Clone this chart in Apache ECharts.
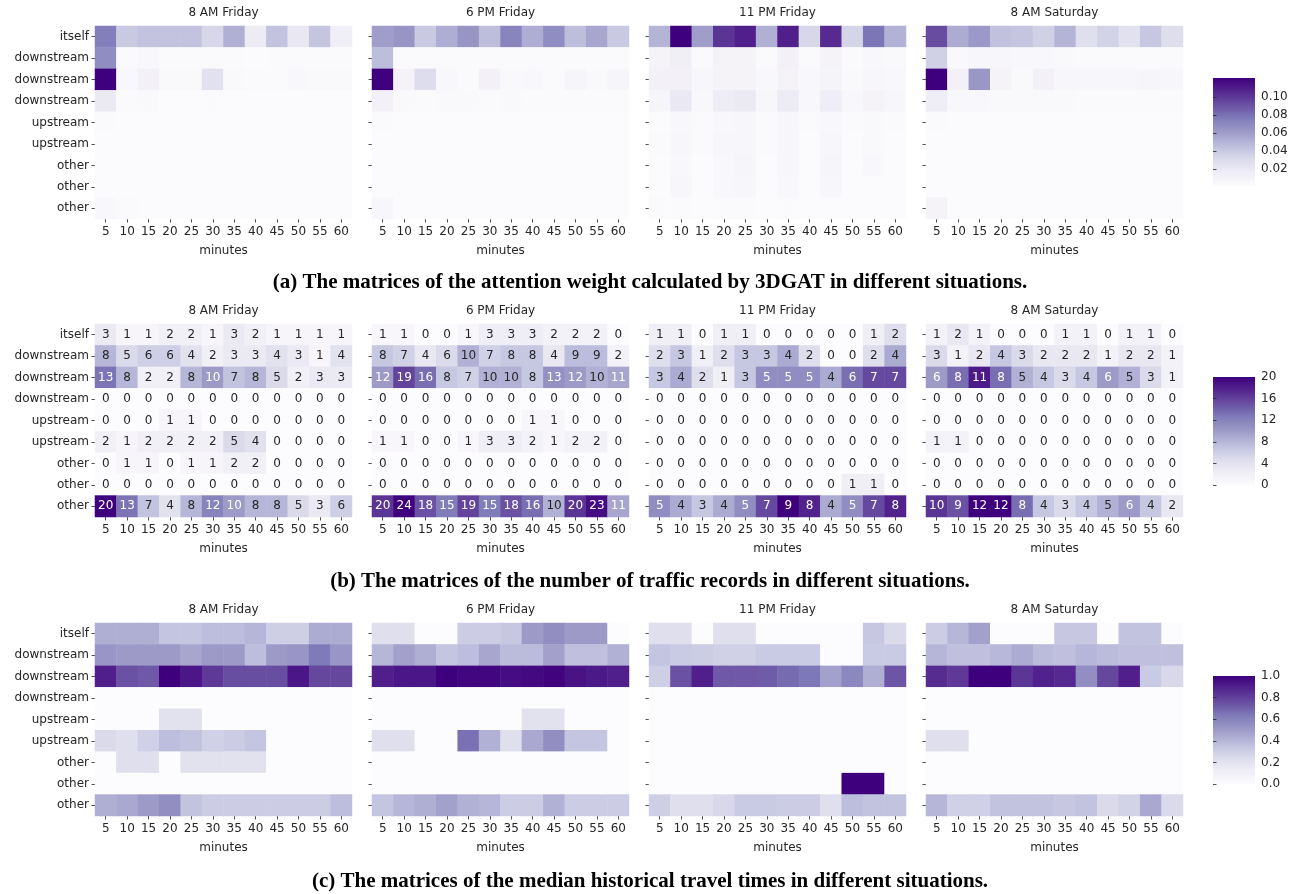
<!DOCTYPE html>
<html>
<head>
<meta charset="utf-8">
<script src="https://cdn.jsdelivr.net/npm/echarts@6/dist/echarts.min.js"></script>
<style>
  html, body { margin: 0; background: #fff; }
  #chart { width: 1300px; height: 894px; }
</style>
</head>
<body>
<div id="chart"></div>
<script>
const minutes = ['5', '10', '15', '20', '25', '30', '35', '40', '45', '50', '55', '60'];
const rowLabels = ['itself', 'downstream', 'downstream', 'downstream', 'upstream', 'upstream', 'other', 'other', 'other'];
const panelTitles = ['8 AM Friday', '6 PM Friday', '11 PM Friday', '8 AM Saturday'];
const captions = [
  '(a) The matrices of the attention weight calculated by 3DGAT in different situations.',
  '(b) The matrices of the number of traffic records in different situations.',
  '(c) The matrices of the median historical travel times in different situations.'
];

// (a) attention weights
const attnFri8am = [
  [0.075, 0.040, 0.043, 0.043, 0.043, 0.033, 0.052, 0.018, 0.043, 0.021, 0.042, 0.015],
  [0.068, 0.004, 0.006, 0.004, 0.004, 0.004, 0.004, 0.002, 0.004, 0.004, 0.004, 0.004],
  [0.121, 0.006, 0.012, 0.005, 0.005, 0.026, 0.005, 0.004, 0.004, 0.006, 0.005, 0.005],
  [0.019, 0.004, 0.005, 0.003, 0.003, 0.004, 0.003, 0.003, 0.003, 0.003, 0.003, 0.003],
  [0.004, 0.003, 0.002, 0.002, 0.002, 0.002, 0.002, 0.002, 0.002, 0.002, 0.002, 0.002],
  [0.003, 0.002, 0.002, 0.002, 0.002, 0.002, 0.003, 0.002, 0.002, 0.002, 0.002, 0.002],
  [0.002, 0.002, 0.002, 0.002, 0.002, 0.002, 0.002, 0.002, 0.002, 0.002, 0.002, 0.002],
  [0.002, 0.002, 0.002, 0.002, 0.002, 0.002, 0.002, 0.002, 0.002, 0.002, 0.002, 0.002],
  [0.006, 0.004, 0.002, 0.003, 0.003, 0.002, 0.003, 0.003, 0.002, 0.002, 0.002, 0.002]
];
const attnFri6pm = [
  [0.060, 0.064, 0.040, 0.053, 0.064, 0.046, 0.072, 0.053, 0.068, 0.046, 0.056, 0.040],
  [0.046, 0.004, 0.004, 0.004, 0.004, 0.004, 0.004, 0.004, 0.004, 0.004, 0.004, 0.004],
  [0.121, 0.010, 0.029, 0.006, 0.004, 0.012, 0.005, 0.006, 0.004, 0.008, 0.005, 0.008],
  [0.012, 0.005, 0.004, 0.005, 0.005, 0.004, 0.005, 0.004, 0.004, 0.004, 0.004, 0.004],
  [0.004, 0.002, 0.002, 0.002, 0.002, 0.002, 0.002, 0.002, 0.002, 0.002, 0.002, 0.002],
  [0.003, 0.003, 0.003, 0.003, 0.003, 0.003, 0.003, 0.003, 0.003, 0.003, 0.003, 0.003],
  [0.002, 0.002, 0.002, 0.002, 0.002, 0.002, 0.002, 0.002, 0.002, 0.002, 0.002, 0.002],
  [0.002, 0.002, 0.002, 0.002, 0.002, 0.002, 0.002, 0.002, 0.002, 0.002, 0.002, 0.002],
  [0.007, 0.002, 0.002, 0.002, 0.002, 0.002, 0.002, 0.002, 0.002, 0.002, 0.002, 0.002]
];
const attnFri11pm = [
  [0.050, 0.121, 0.060, 0.101, 0.109, 0.052, 0.109, 0.033, 0.105, 0.034, 0.079, 0.051],
  [0.010, 0.014, 0.004, 0.010, 0.010, 0.004, 0.012, 0.004, 0.010, 0.004, 0.006, 0.005],
  [0.012, 0.012, 0.007, 0.010, 0.010, 0.006, 0.010, 0.006, 0.009, 0.005, 0.007, 0.006],
  [0.008, 0.020, 0.006, 0.017, 0.019, 0.007, 0.018, 0.006, 0.016, 0.006, 0.010, 0.007],
  [0.003, 0.006, 0.004, 0.006, 0.007, 0.004, 0.007, 0.004, 0.006, 0.004, 0.005, 0.004],
  [0.004, 0.007, 0.004, 0.007, 0.007, 0.004, 0.007, 0.003, 0.007, 0.003, 0.005, 0.003],
  [0.003, 0.006, 0.003, 0.006, 0.008, 0.003, 0.007, 0.003, 0.008, 0.003, 0.006, 0.003],
  [0.002, 0.007, 0.003, 0.006, 0.007, 0.003, 0.006, 0.002, 0.007, 0.002, 0.003, 0.002],
  [0.004, 0.004, 0.003, 0.004, 0.004, 0.003, 0.004, 0.002, 0.003, 0.002, 0.003, 0.002]
];
const attnSat8am = [
  [0.093, 0.054, 0.062, 0.044, 0.042, 0.036, 0.050, 0.027, 0.035, 0.026, 0.041, 0.028],
  [0.036, 0.005, 0.007, 0.007, 0.006, 0.006, 0.005, 0.004, 0.004, 0.004, 0.004, 0.004],
  [0.121, 0.012, 0.063, 0.010, 0.005, 0.012, 0.007, 0.007, 0.007, 0.007, 0.008, 0.007],
  [0.016, 0.006, 0.006, 0.005, 0.005, 0.005, 0.005, 0.004, 0.004, 0.004, 0.004, 0.004],
  [0.004, 0.002, 0.002, 0.002, 0.002, 0.002, 0.002, 0.002, 0.002, 0.002, 0.002, 0.002],
  [0.002, 0.002, 0.002, 0.002, 0.002, 0.002, 0.002, 0.002, 0.002, 0.002, 0.002, 0.002],
  [0.002, 0.002, 0.002, 0.002, 0.002, 0.002, 0.002, 0.002, 0.002, 0.002, 0.002, 0.002],
  [0.002, 0.002, 0.002, 0.002, 0.002, 0.002, 0.002, 0.002, 0.002, 0.002, 0.002, 0.002],
  [0.010, 0.003, 0.003, 0.003, 0.003, 0.003, 0.003, 0.003, 0.003, 0.003, 0.003, 0.003]
];

// (b) number of traffic records
const countFri8am = [
  [3, 1, 1, 2, 2, 1, 3, 2, 1, 1, 1, 1],
  [8, 5, 6, 6, 4, 2, 3, 3, 4, 3, 1, 4],
  [13, 8, 2, 2, 8, 10, 7, 8, 5, 2, 3, 3],
  [0, 0, 0, 0, 0, 0, 0, 0, 0, 0, 0, 0],
  [0, 0, 0, 1, 1, 0, 0, 0, 0, 0, 0, 0],
  [2, 1, 2, 2, 2, 2, 5, 4, 0, 0, 0, 0],
  [0, 1, 1, 0, 1, 1, 2, 2, 0, 0, 0, 0],
  [0, 0, 0, 0, 0, 0, 0, 0, 0, 0, 0, 0],
  [20, 13, 7, 4, 8, 12, 10, 8, 8, 5, 3, 6]
];
const countFri6pm = [
  [1, 1, 0, 0, 1, 3, 3, 3, 2, 2, 2, 0],
  [8, 7, 4, 6, 10, 7, 8, 8, 4, 9, 9, 2],
  [12, 19, 16, 8, 7, 10, 10, 8, 13, 12, 10, 11],
  [0, 0, 0, 0, 0, 0, 0, 0, 0, 0, 0, 0],
  [0, 0, 0, 0, 0, 0, 0, 1, 1, 0, 0, 0],
  [1, 1, 0, 0, 1, 3, 3, 2, 1, 2, 2, 0],
  [0, 0, 0, 0, 0, 0, 0, 0, 0, 0, 0, 0],
  [0, 0, 0, 0, 0, 0, 0, 0, 0, 0, 0, 0],
  [20, 24, 18, 15, 19, 15, 18, 16, 10, 20, 23, 11]
];
const countFri11pm = [
  [1, 1, 0, 1, 1, 0, 0, 0, 0, 0, 1, 2],
  [2, 3, 1, 2, 3, 3, 4, 2, 0, 0, 2, 4],
  [3, 4, 2, 1, 3, 5, 5, 5, 4, 6, 7, 7],
  [0, 0, 0, 0, 0, 0, 0, 0, 0, 0, 0, 0],
  [0, 0, 0, 0, 0, 0, 0, 0, 0, 0, 0, 0],
  [0, 0, 0, 0, 0, 0, 0, 0, 0, 0, 0, 0],
  [0, 0, 0, 0, 0, 0, 0, 0, 0, 0, 0, 0],
  [0, 0, 0, 0, 0, 0, 0, 0, 0, 1, 1, 0],
  [5, 4, 3, 4, 5, 7, 9, 8, 4, 5, 7, 8]
];
const countSat8am = [
  [1, 2, 1, 0, 0, 0, 1, 1, 0, 1, 1, 0],
  [3, 1, 2, 4, 3, 2, 2, 2, 1, 2, 2, 1],
  [6, 8, 11, 8, 5, 4, 3, 4, 6, 5, 3, 1],
  [0, 0, 0, 0, 0, 0, 0, 0, 0, 0, 0, 0],
  [0, 0, 0, 0, 0, 0, 0, 0, 0, 0, 0, 0],
  [1, 1, 0, 0, 0, 0, 0, 0, 0, 0, 0, 0],
  [0, 0, 0, 0, 0, 0, 0, 0, 0, 0, 0, 0],
  [0, 0, 0, 0, 0, 0, 0, 0, 0, 0, 0, 0],
  [10, 9, 12, 12, 8, 4, 3, 4, 5, 6, 4, 2]
];

// (c) median historical travel times
const medianFri8am = [
  [0.43, 0.43, 0.43, 0.34, 0.34, 0.37, 0.37, 0.40, 0.30, 0.30, 0.44, 0.44],
  [0.52, 0.50, 0.50, 0.50, 0.46, 0.50, 0.50, 0.37, 0.50, 0.52, 0.63, 0.52],
  [0.90, 0.75, 0.73, 1.00, 0.93, 0.82, 0.76, 0.76, 0.76, 0.93, 0.78, 0.78],
  [0, 0, 0, 0, 0, 0, 0, 0, 0, 0, 0, 0],
  [0, 0, 0, 0.20, 0.20, 0, 0, 0, 0, 0, 0, 0],
  [0.25, 0.22, 0.29, 0.37, 0.35, 0.29, 0.31, 0.34, 0, 0, 0, 0],
  [0, 0.22, 0.22, 0, 0.20, 0.20, 0.20, 0.20, 0, 0, 0, 0],
  [0, 0, 0, 0, 0, 0, 0, 0, 0, 0, 0, 0],
  [0.43, 0.45, 0.50, 0.55, 0.35, 0.31, 0.31, 0.31, 0.31, 0.31, 0.31, 0.37]
];
const medianFri6pm = [
  [0.22, 0.22, 0, 0, 0.31, 0.31, 0.33, 0.50, 0.55, 0.50, 0.50, 0],
  [0.40, 0.48, 0.43, 0.34, 0.37, 0.46, 0.38, 0.38, 0.48, 0.36, 0.36, 0.42],
  [0.90, 0.93, 0.93, 1.00, 0.98, 0.98, 0.96, 0.97, 0.99, 0.94, 0.92, 0.90],
  [0, 0, 0, 0, 0, 0, 0, 0, 0, 0, 0, 0],
  [0, 0, 0, 0, 0, 0, 0, 0.20, 0.20, 0, 0, 0],
  [0.22, 0.22, 0, 0, 0.66, 0.42, 0.22, 0.45, 0.55, 0.34, 0.34, 0],
  [0, 0, 0, 0, 0, 0, 0, 0, 0, 0, 0, 0],
  [0, 0, 0, 0, 0, 0, 0, 0, 0, 0, 0, 0],
  [0.34, 0.40, 0.43, 0.48, 0.42, 0.40, 0.31, 0.31, 0.42, 0.31, 0.31, 0.31]
];
const medianFri11pm = [
  [0.22, 0.22, 0, 0.22, 0.22, 0, 0, 0, 0, 0, 0.33, 0.25],
  [0.34, 0.32, 0.31, 0.29, 0.29, 0.32, 0.32, 0.32, 0, 0, 0.32, 0.32],
  [0.30, 0.75, 0.90, 0.73, 0.73, 0.72, 0.68, 0.64, 0.48, 0.58, 0.43, 0.74],
  [0, 0, 0, 0, 0, 0, 0, 0, 0, 0, 0, 0],
  [0, 0, 0, 0, 0, 0, 0, 0, 0, 0, 0, 0],
  [0, 0, 0, 0, 0, 0, 0, 0, 0, 0, 0, 0],
  [0, 0, 0, 0, 0, 0, 0, 0, 0, 0, 0, 0],
  [0, 0, 0, 0, 0, 0, 0, 0, 0, 1.00, 1.00, 0],
  [0.30, 0.22, 0.22, 0.26, 0.32, 0.32, 0.31, 0.31, 0.22, 0.37, 0.35, 0.35]
];
const medianSat8am = [
  [0.31, 0.40, 0.48, 0, 0, 0, 0.33, 0.33, 0, 0.35, 0.35, 0],
  [0.40, 0.36, 0.36, 0.39, 0.44, 0.38, 0.36, 0.40, 0.38, 0.36, 0.36, 0.36],
  [0.86, 0.82, 1.00, 1.00, 0.83, 0.89, 0.87, 0.55, 0.78, 0.90, 0.32, 0.26],
  [0, 0, 0, 0, 0, 0, 0, 0, 0, 0, 0, 0],
  [0, 0, 0, 0, 0, 0, 0, 0, 0, 0, 0, 0],
  [0.22, 0.22, 0, 0, 0, 0, 0, 0, 0, 0, 0, 0],
  [0, 0, 0, 0, 0, 0, 0, 0, 0, 0, 0, 0],
  [0, 0, 0, 0, 0, 0, 0, 0, 0, 0, 0, 0],
  [0.40, 0.29, 0.29, 0.35, 0.35, 0.35, 0.33, 0.35, 0.25, 0.28, 0.45, 0.25]
];

const attnTicks = [0.02, 0.04, 0.06, 0.08, 0.10];
const countTicks = [0, 4, 8, 12, 16, 20];
const medianTicks = [0, 0.2, 0.4, 0.6, 0.8, 1.0];

const rows = [
  [attnFri8am, attnFri6pm, attnFri11pm, attnSat8am],
  [countFri8am, countFri6pm, countFri11pm, countSat8am],
  [medianFri8am, medianFri6pm, medianFri11pm, medianSat8am]
];

// matplotlib "Purples"
const PURPLES = ['#fcfbfd', '#efedf5', '#dadaeb', '#bcbddc', '#9e9ac8', '#807dba', '#6a51a3', '#54278f', '#3f007d'];
const TEXT = '#262626';
const FONT = 'DejaVu Sans';

const LEFTS = [95, 372, 649, 926];
const TOPS = [26, 324, 623];
const W = 257, H = 193;
const CB = { left: 1213, width: 42, tops: [78, 377, 676], height: 108 };

function hexRgb(h) {
  return [1, 3, 5].map(i => parseInt(h.slice(i, i + 2), 16));
}
function purpleAt(t) {
  t = Math.min(1, Math.max(0, t));
  const p = t * (PURPLES.length - 1);
  const i = Math.min(PURPLES.length - 2, Math.floor(p));
  const f = p - i;
  const a = hexRgb(PURPLES[i]), b = hexRgb(PURPLES[i + 1]);
  return a.map((v, k) => v + (b[k] - v) * f);
}
// seaborn picks white text on dark cells
function textColorFor(t) {
  const lin = purpleAt(t).map(c => {
    c /= 255;
    return c <= 0.03928 ? c / 12.92 : Math.pow((c + 0.055) / 1.055, 2.4);
  });
  const lum = 0.2126 * lin[0] + 0.7152 * lin[1] + 0.0722 * lin[2];
  return lum > 0.408 ? TEXT : '#ffffff';
}

const grids = [], xAxes = [], yAxes = [], series = [], visualMaps = [];
const titles = [];

rows.forEach((panels, r) => {
  panels.forEach((mat, k) => {
    const idx = r * 4 + k;
    grids.push({ left: LEFTS[k], top: TOPS[r], width: W, height: H });
    xAxes.push({
      gridIndex: idx, type: 'category', data: minutes,
      name: 'minutes', nameLocation: 'middle', nameGap: 26,
      nameTextStyle: { color: TEXT, fontSize: 12, fontFamily: FONT },
      axisLine: { show: false },
      axisTick: { show: true, alignWithLabel: true, length: 3.5, lineStyle: { color: TEXT, width: 0.8 } },
      axisLabel: { color: TEXT, fontSize: 12, fontFamily: FONT, margin: 7, interval: 0 },
      splitLine: { show: false }
    });
    yAxes.push({
      gridIndex: idx, type: 'category', inverse: true,
      data: rowLabels.map((_, i) => 'r' + i),
      axisLine: { show: false },
      axisTick: { show: true, alignWithLabel: true, length: 3.5, lineStyle: { color: TEXT, width: 0.8 } },
      axisLabel: {
        show: k === 0, color: TEXT, fontSize: 12, fontFamily: FONT, margin: 6, interval: 0,
        formatter: v => rowLabels[+v.slice(1)]
      },
      splitLine: { show: false }
    });
    const max = Math.max(...mat.flat());
    const data = [];
    mat.forEach((row, y) => row.forEach((v, x) => {
      if (r === 1) {
        data.push({ value: [x, y, v], label: { color: textColorFor(v / max) } });
      } else {
        data.push([x, y, v]);
      }
    }));
    series.push({
      type: 'heatmap', xAxisIndex: idx, yAxisIndex: idx, data,
      itemStyle: { borderWidth: 0 },
      label: {
        show: r === 1, fontSize: 12, fontFamily: FONT,
        formatter: p => p.value[2]
      },
      emphasis: { disabled: true }
    });
    if (r === 1) {
      visualMaps.push({ type: 'continuous', show: false, seriesIndex: idx, min: 0, max, inRange: { color: PURPLES } });
    }
    titles.push({
      text: panelTitles[k], left: LEFTS[k] + W / 2, top: TOPS[r] - 19, textAlign: 'center', padding: 0,
      textStyle: { color: TEXT, fontSize: 12, fontWeight: 'normal', fontFamily: FONT }
    });
  });
  titles.push({
    text: captions[r], left: 'center', top: [272, 571, 871][r], padding: 0,
    textStyle: { color: '#000', fontSize: 21, fontWeight: 'bold', fontFamily: 'Liberation Serif' }
  });
});

visualMaps.push({ type: 'continuous', show: false, seriesIndex: [0, 1, 2, 3], min: 0.0014, max: 0.121, inRange: { color: PURPLES } });
visualMaps.push({ type: 'continuous', show: false, seriesIndex: [8, 9, 10, 11], min: 0, max: 1, inRange: { color: PURPLES } });

// colour bars
const cbRanges = [[0.0014, 0.121, attnTicks, v => v.toFixed(2)], [0, 20, countTicks, v => String(v)], [0, 1, medianTicks, v => v.toFixed(1)]];
cbRanges.forEach(([mn, mx, ticks, fmt], r) => {
  const gi = grids.length;
  grids.push({
    left: CB.left, top: CB.tops[r], width: CB.width, height: CB.height,
    show: true, borderWidth: 0,
    backgroundColor: {
      type: 'linear', x: 0, y: 0, x2: 0, y2: 1,
      colorStops: PURPLES.slice().reverse().map((c, i) => ({ offset: i / (PURPLES.length - 1), color: c }))
    }
  });
  xAxes.push({ gridIndex: gi, type: 'value', show: false });
  yAxes.push({
    gridIndex: gi, type: 'value', position: 'right', min: mn, max: mx,
    axisLine: { show: false },
    axisTick: { show: true, length: 3.5, customValues: ticks, lineStyle: { color: TEXT, width: 0.8 } },
    axisLabel: { customValues: ticks, formatter: fmt, color: TEXT, fontSize: 12, fontFamily: FONT, margin: 6 },
    splitLine: { show: false }
  });
});

const chart = echarts.init(document.getElementById('chart'));
chart.setOption({
  backgroundColor: '#fff',
  animation: false,
  title: titles,
  grid: grids,
  xAxis: xAxes,
  yAxis: yAxes,
  visualMap: visualMaps,
  series
});
</script>
</body>
</html>
